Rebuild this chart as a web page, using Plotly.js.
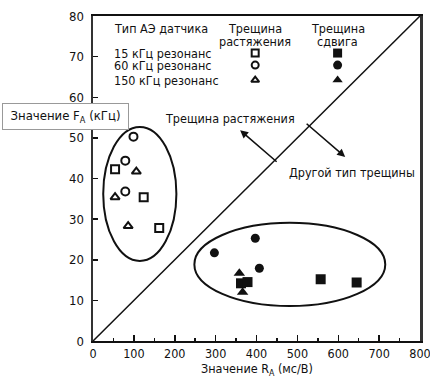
<!DOCTYPE html>
<html>
<head>
<meta charset="utf-8">
<script src="https://cdn.plot.ly/plotly-3.0.1.min.js"></script>
<style>
  html, body { margin: 0; padding: 0; background: #fff; }
  #chart { width: 430px; height: 381px; }
  svg text { font-stretch: condensed; }
</style>
</head>
<body>
<div id="chart"></div>
<script>
// Tensile cracks (open markers), by AE sensor resonance
const tensile15X = [54, 124, 162];
const tensile15Y = [42.3, 35.4, 27.8];
const tensile60X = [99, 79, 79];
const tensile60Y = [50.3, 44.4, 36.8];
const tensile150X = [106, 54, 86];
const tensile150Y = [41.7, 35.4, 28.3];

// Shear cracks (filled markers)
const shear15X = [362, 378, 557, 645];
const shear15Y = [14.2, 14.5, 15.2, 14.4];
const shear60X = [297, 397, 407];
const shear60Y = [21.7, 25.3, 17.9];
const shear150X = [358, 366];
const shear150Y = [16.7, 12.0];

// Key glyphs: columns (tensile, shear) and rows (15, 60, 150 kHz) in plot fractions
const keyColX = [0.496, 0.748];
const keyRowY = [0.886, 0.849, 0.803];

const sensorLabels = ['15 кГц резонанс', '60 кГц резонанс', '150 кГц резонанс'];

const FONT = '"DejaVu Sans", sans-serif';
const INK = '#111';

function pts(x, y, symbol, size, lw) {
  return {
    type: 'scatter', mode: 'markers', x: x, y: y, showlegend: false, hoverinfo: 'skip',
    marker: { symbol: symbol, size: size, color: INK, line: { color: INK, width: lw } }
  };
}

const traces = [
  pts(tensile15X, tensile15Y, 'square-open', 8, 2),
  pts(tensile60X, tensile60Y, 'circle-open', 8, 2),
  pts(tensile150X, tensile150Y, 'triangle-up-open', 8, 2),
  pts(shear15X, shear15Y, 'square', 10, 0),
  pts(shear60X, shear60Y, 'circle', 9, 0),
  pts(shear150X, shear150Y, 'triangle-up', 10, 0),
];

// key glyphs on an overlaid unit axis pair
const openSyms = ['square-open', 'circle-open', 'triangle-up-open'];
const fillSyms = ['square', 'circle', 'triangle-up'];
traces.push({
  type: 'scatter', mode: 'markers', xaxis: 'x2', yaxis: 'y2', showlegend: false, hoverinfo: 'skip',
  x: keyRowY.map(() => keyColX[0]), y: keyRowY,
  marker: { symbol: openSyms, size: 7, color: INK, line: { color: INK, width: 2 } }
});
traces.push({
  type: 'scatter', mode: 'markers', xaxis: 'x2', yaxis: 'y2', showlegend: false, hoverinfo: 'skip',
  x: keyRowY.map(() => keyColX[1]), y: keyRowY,
  marker: { symbol: fillSyms, size: 9, color: INK, line: { width: 0 } }
});

function note(text, x, y, opts) {
  return Object.assign({
    text: text, x: x, y: y, xref: 'paper', yref: 'paper', showarrow: false,
    xanchor: 'center', yanchor: 'middle',
    font: { family: FONT, size: 12.5, color: INK }
  }, opts || {});
}

// left-aligned key captions get a fixed box so the text hugs its left edge
const leftBox = { xanchor: 'left', align: 'left', width: 112 };

const annotations = [
  note('Тип АЭ датчика', 0.058, 0.963, leftBox),
  note(sensorLabels[0], 0.058, keyRowY[0], leftBox),
  note(sensorLabels[1], 0.058, keyRowY[1], leftBox),
  note(sensorLabels[2], 0.058, keyRowY[2], leftBox),
  note('Трещина', keyColX[0], 0.963),
  note('растяжения', keyColX[0], 0.923),
  note('Трещина', keyColX[1], 0.963),
  note('сдвига', keyColX[1], 0.923),
  note('Трещина растяжения', 0.419, 0.686),
  note('Другой тип трещины', 0.792, 0.517),
  note('Значение R<sub>A</sub> (мс/В)', 0.5, -0.089),
  note('Значение F<sub>A</sub> (кГц)', -0.085, 0.692, {
    bgcolor: '#fff', bordercolor: '#999', borderwidth: 1, borderpad: 4, width: 117,
    font: { family: FONT, size: 13, color: INK }
  }),
  // arrows pointing away from the boundary line
  { x: 360, y: 51.9, ax: 453, ay: 43.8, xref: 'x', yref: 'y', axref: 'x', ayref: 'y',
    showarrow: true, arrowhead: 2, arrowsize: 1, arrowwidth: 1.6, arrowcolor: INK, text: '' },
  { x: 617, y: 45.3, ax: 519, ay: 53.8, xref: 'x', yref: 'y', axref: 'x', ayref: 'y',
    showarrow: true, arrowhead: 2, arrowsize: 1, arrowwidth: 1.6, arrowcolor: INK, text: '' },
];

const shapes = [
  { type: 'line', xref: 'x', yref: 'y', x0: 0, y0: 0, x1: 800, y1: 80, line: { color: INK, width: 1.5 } },
  { type: 'circle', xref: 'x', yref: 'y', x0: 25, x1: 204, y0: 19.7, y1: 52.7, line: { color: INK, width: 2 } },
  { type: 'circle', xref: 'x', yref: 'y', x0: 248, x1: 715, y0: 8.6, y1: 29.1, line: { color: INK, width: 2 } },
];

const layout = {
  width: 430, height: 381,
  margin: { l: 93, r: 10, t: 16, b: 40 },
  paper_bgcolor: '#fff', plot_bgcolor: '#fff',
  font: { family: FONT, size: 13, color: INK },
  xaxis: {
    range: [0, 800], dtick: 100, tick0: 0, showgrid: false, zeroline: false,
    ticks: 'inside', ticklen: 6, tickwidth: 1.5, tickcolor: INK,
    showline: true, linecolor: INK, linewidth: 2, mirror: true,
    ticklabeloverflow: 'allow',
    minor: { dtick: 50, ticks: 'inside', ticklen: 3, tickwidth: 1.5, tickcolor: INK },
    tickfont: { family: FONT, size: 12.5, color: INK }
  },
  yaxis: {
    range: [0, 80], dtick: 10, tick0: 0, showgrid: false, zeroline: false,
    ticks: 'inside', ticklen: 5, tickwidth: 1.5, tickcolor: INK,
    showline: true, linecolor: '#333', linewidth: 2.5, mirror: true,
    ticklabelstandoff: 4,
    tickfont: { family: FONT, size: 13, color: INK }
  },
  xaxis2: { range: [0, 1], overlaying: 'x', visible: false, fixedrange: true },
  yaxis2: { range: [0, 1], overlaying: 'y', visible: false, fixedrange: true },
  annotations: annotations,
  shapes: shapes,
  showlegend: false
};

Plotly.newPlot('chart', traces, layout, { displayModeBar: false, staticPlot: true });
</script>
</body>
</html>
